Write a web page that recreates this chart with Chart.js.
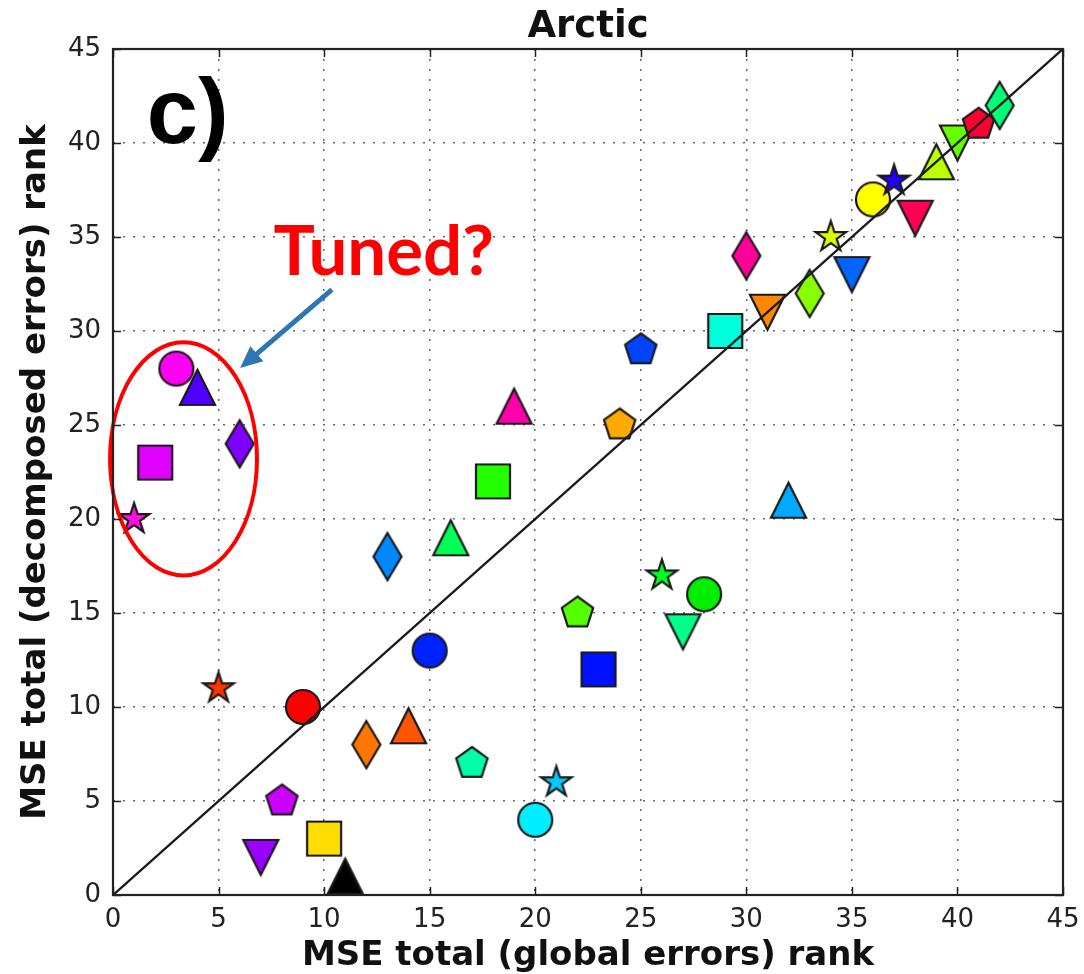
<!DOCTYPE html>
<html>
<head>
<meta charset="utf-8">
<script src="https://cdn.jsdelivr.net/npm/chart.js@4.4.1/dist/chart.umd.min.js"></script>
<style>
html,body{margin:0;padding:0;background:#fff;}
#wrap{width:1084px;height:974px;}
</style>
</head>
<body>
<div id="wrap"><canvas id="c" width="1084" height="974"></canvas></div>
<script>
// ---------------- data ----------------
const globalRank = [1,2,3,4,5,6,7,8,9,10,11,12,13,14,15,16,17,18,19,20,21,22,23,24,25,26,27,28,29,30,31,32,33,34,35,36,37,38,39,40,41,42];
const decomposedRank = [20,23,28,27,11,24,2,5,10,3,1,8,18,9,13,19,7,22,26,4,6,15,12,25,29,17,14,16,30,34,31,21,32,35,33,37,38,36,39,40,41,42];
const markerShapes = ['star','square','circle','triUp','star','diamond','triDown','pentagon','circle','square','triUp','diamond','diamond','triUp','circle','triUp','pentagon','square','triUp','circle','star','pentagon','square','pentagon','pentagon','star','triDown','circle','square','diamond','triDown','triUp','diamond','star','triDown','circle','star','triDown','triUp','triDown','pentagon','diamond'];
const markerColors = ['#ff10e0','#e000ff','#ff00f5','#4d00ff','#ff3300','#7f00ff','#9900ff','#cc00ff','#ff0000','#ffdd00','#000000','#ff7700','#0088ff','#ff5500','#0022ff','#00ff55','#00ffaa','#22ff00','#ff00aa','#00eeff','#00ccff','#55ff00','#0011ff','#ffaa00','#0044ff','#00ff22','#00ff88','#00ee00','#00ffdd','#ff0099','#ff8800','#00aaff','#88ff00','#ddff00','#0066ff','#ffff00','#2200ff','#ff0055','#bbff00','#66ff00','#ff0033','#00ff77'];
const diagonal = [0, 45];
const axisMin = 0, axisMax = 45, axisStep = 5;

// annotation placement (data units)
const ellipseCenter = [3.34, 23.2];
const ellipseRadii = [3.48, 6.2];
const arrowFrom = [10.37, 32.2];
const arrowTo = [6.02, 28.03];
const tunedTextAt = [7.6, 33.0];
const panelTextAt = [1.6, 40.0];

// ---------------- markers ----------------
function makeMarker(shape, fill) {
  const dims = {circle:[17,17], square:[17,17], triUp:[17.5,17.5], triDown:[17.5,17.5], diamond:[14,23.5], pentagon:[16.5,16.5], star:[16,16]};
  const [hw, hh] = dims[shape];
  const m = 6;
  const w = Math.ceil(2*hw + 2*m), h = Math.ceil(2*hh + 2*m);
  const c = document.createElement('canvas');
  c.width = w; c.height = h;
  const g = c.getContext('2d');
  const cx = w/2, cy = h/2;
  g.fillStyle = fill; g.strokeStyle = '#1a1a1a'; g.lineWidth = 2.2; g.lineJoin = 'miter';
  g.beginPath();
  if (shape === 'circle') {
    g.arc(cx, cy, hw, 0, Math.PI*2);
  } else if (shape === 'square') {
    g.rect(cx-hw, cy-hh, 2*hw, 2*hh);
  } else if (shape === 'triUp') {
    g.moveTo(cx, cy-hh); g.lineTo(cx+hw, cy+hh); g.lineTo(cx-hw, cy+hh); g.closePath();
  } else if (shape === 'triDown') {
    g.moveTo(cx, cy+hh); g.lineTo(cx+hw, cy-hh); g.lineTo(cx-hw, cy-hh); g.closePath();
  } else if (shape === 'diamond') {
    g.moveTo(cx, cy-hh); g.lineTo(cx+hw, cy); g.lineTo(cx, cy+hh); g.lineTo(cx-hw, cy); g.closePath();
  } else if (shape === 'pentagon') {
    for (let i=0;i<5;i++){ const a = -Math.PI/2 + i*2*Math.PI/5; const px = cx + hw*Math.cos(a), py = cy + hw*Math.sin(a); i? g.lineTo(px,py) : g.moveTo(px,py);} g.closePath();
  } else if (shape === 'star') {
    const ri = hw*0.381966;
    for (let i=0;i<10;i++){ const r = i%2 ? ri : hw; const a = -Math.PI/2 + i*Math.PI/5; const px = cx + r*Math.cos(a), py = cy + r*Math.sin(a); i? g.lineTo(px,py) : g.moveTo(px,py);} g.closePath();
  }
  g.fill(); g.stroke();
  return c;
}
const pointImages = markerShapes.map((s,i) => makeMarker(s, markerColors[i]));

// ---------------- plugins ----------------
const annotations = {
  id: 'annotations',
  afterDatasetsDraw(chart) {
    const {ctx, scales:{x, y}} = chart;
    ctx.save();
    // ellipse
    const ecx = x.getPixelForValue(ellipseCenter[0]), ecy = y.getPixelForValue(ellipseCenter[1]);
    const erx = x.getPixelForValue(ellipseCenter[0] + ellipseRadii[0]) - ecx;
    const ery = ecy - y.getPixelForValue(ellipseCenter[1] + ellipseRadii[1]);
    ctx.beginPath();
    ctx.ellipse(ecx, ecy, erx, ery, 0, 0, Math.PI*2);
    ctx.strokeStyle = '#ff0000'; ctx.lineWidth = 4;
    ctx.stroke();
    // arrow
    const ax0 = x.getPixelForValue(arrowFrom[0]), ay0 = y.getPixelForValue(arrowFrom[1]);
    const ax1 = x.getPixelForValue(arrowTo[0]), ay1 = y.getPixelForValue(arrowTo[1]);
    const ang = Math.atan2(ay1-ay0, ax1-ax0);
    const headLen = 22, headW = 10;
    const bx = ax1 - headLen*Math.cos(ang), by = ay1 - headLen*Math.sin(ang);
    ctx.strokeStyle = '#2e75b6'; ctx.fillStyle = '#2e75b6'; ctx.lineWidth = 5; ctx.lineCap = 'butt';
    ctx.beginPath(); ctx.moveTo(ax0, ay0); ctx.lineTo(bx + 2*Math.cos(ang), by + 2*Math.sin(ang)); ctx.stroke();
    ctx.beginPath();
    ctx.moveTo(ax1, ay1);
    ctx.lineTo(bx + headW*Math.sin(ang), by - headW*Math.cos(ang));
    ctx.lineTo(bx - headW*Math.sin(ang), by + headW*Math.cos(ang));
    ctx.closePath(); ctx.fill();
    // texts
    ctx.textAlign = 'left'; ctx.textBaseline = 'alphabetic';
    ctx.fillStyle = '#ff0000';
    ctx.font = 'bold 69px Lato, "Open Sans", sans-serif';
    ctx.fillText('Tuned?', x.getPixelForValue(tunedTextAt[0]), y.getPixelForValue(tunedTextAt[1]));
    ctx.fillStyle = '#000000';
    ctx.font = 'bold 92px "Liberation Sans", Arial, sans-serif';
    ctx.fillText('c)', x.getPixelForValue(panelTextAt[0]), y.getPixelForValue(panelTextAt[1]));
    ctx.restore();
  },
  afterDraw(chart) {
    const {ctx, chartArea:a, scales:{x, y}} = chart;
    ctx.save();
    ctx.strokeStyle = '#222'; ctx.lineWidth = 1.5;
    const tl = 8;
    ctx.beginPath();
    x.ticks.forEach(t => {
      const px = Math.round(x.getPixelForValue(t.value)) + 0.5;
      ctx.moveTo(px, a.bottom); ctx.lineTo(px, a.bottom - tl);
      ctx.moveTo(px, a.top); ctx.lineTo(px, a.top + tl);
    });
    y.ticks.forEach(t => {
      const py = Math.round(y.getPixelForValue(t.value)) + 0.5;
      ctx.moveTo(a.left, py); ctx.lineTo(a.left + tl, py);
      ctx.moveTo(a.right, py); ctx.lineTo(a.right - tl, py);
    });
    ctx.stroke();
    ctx.lineWidth = 2.2; ctx.strokeStyle = '#222';
    ctx.strokeRect(a.left, a.top, a.right - a.left, a.bottom - a.top);
    ctx.restore();
  }
};

// ---------------- chart ----------------
const scatterPoints = globalRank.map((v,i) => ({x: v, y: decomposedRank[i]}));
const diagPoints = diagonal.map(v => ({x: v, y: v}));

const tickFont = {family: '"DejaVu Sans", sans-serif', size: 26};
const titleFont = {family: '"DejaVu Sans", sans-serif', size: 34, weight: 'bold', lineHeight: 1};

new Chart(document.getElementById('c'), {
  type: 'scatter',
  data: {
    datasets: [
      {
        label: '1:1',
        data: diagPoints,
        showLine: true,
        borderColor: '#1a1a1a',
        borderWidth: 2.4,
        pointRadius: 0,
        pointHoverRadius: 0,
        fill: false
      },
      {
        label: 'models',
        data: scatterPoints,
        pointStyle: pointImages,
        pointRadius: 18,
        pointHoverRadius: 18,
        backgroundColor: markerColors,
        borderColor: '#1a1a1a'
      }
    ]
  },
  options: {
    responsive: false,
    animation: false,
    devicePixelRatio: 1,
    layout: {padding: {left: 0, right: 21, top: 0, bottom: 0}},
    plugins: {
      legend: {display: false},
      tooltip: {enabled: false},
      title: {
        display: true,
        text: 'Arctic',
        fullSize: false,
        color: '#111',
        font: {family: '"DejaVu Sans", sans-serif', size: 37, weight: 'bold', lineHeight: 1},
        padding: {top: 9, bottom: 3}
      }
    },
    scales: {
      x: {
        type: 'linear',
        min: axisMin, max: axisMax,
        afterFit: s => { s.height = 79; s.paddingLeft = 0; s.paddingRight = 0; },
        ticks: {stepSize: axisStep, autoSkip: false, maxRotation: 0, color: '#222', font: tickFont, padding: 10},
        grid: {color: '#666', lineWidth: 1.5, drawTicks: false},
        border: {display: false, dash: [2, 8]},
        title: {display: true, text: 'MSE total (global errors) rank', color: '#111', font: titleFont, padding: {top: 0, bottom: 1}}
      },
      y: {
        type: 'linear',
        min: axisMin, max: axisMax,
        afterFit: s => { s.width = 113; s.paddingTop = 0; s.paddingBottom = 0; },
        ticks: {stepSize: axisStep, autoSkip: false, color: '#222', font: tickFont, padding: 12},
        grid: {color: '#666', lineWidth: 1.5, drawTicks: false},
        border: {display: false, dash: [2, 8]},
        title: {display: true, text: 'MSE total (decomposed errors) rank', color: '#111', font: titleFont, padding: {top: 19, bottom: 0}}
      }
    }
  },
  plugins: [annotations]
});
</script>
</body>
</html>
